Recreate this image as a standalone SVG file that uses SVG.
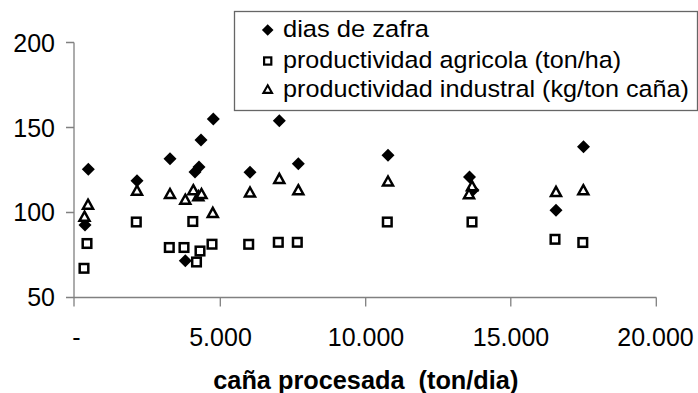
<svg xmlns="http://www.w3.org/2000/svg" width="698" height="393" viewBox="0 0 698 393">
<style>
text{font-family:"Liberation Sans",Arial,sans-serif;fill:#000;}
.tick{font-size:25px;}
.leg{font-size:24.5px;}
.title{font-size:25.3px;font-weight:bold;}
.axis{stroke:#808080;stroke-width:1.3;fill:none;}
.dia{fill:#000;stroke:none;}
.sq{fill:#fff;stroke:#000;stroke-width:2.5;}
.tri{fill:#fff;stroke:#000;stroke-width:2.5;stroke-linejoin:miter;}
</style>
<defs>
<path id="mD" class="dia" d="M0,-6.5 L6.5,0 L0,6.5 L-6.5,0 Z"/>
<rect id="mS" class="sq" x="-4.3" y="-4.3" width="8.6" height="8.6"/>
<path id="mT" class="tri" d="M0,-4.8 L5.0,4.2 L-5.0,4.2 Z"/>
<path id="lD" class="dia" d="M0,-5.8 L5.8,0 L0,5.8 L-5.8,0 Z"/>
<rect id="lS" class="sq" x="-3.6" y="-3.6" width="7.2" height="7.2" style="stroke-width:2.2"/>
<path id="lT" class="tri" d="M0,-4 L4.3,3.6 L-4.3,3.6 Z" style="stroke-width:2.1"/>
</defs>
<rect width="698" height="393" fill="#fff"/>
<g id="axes">
<path class="axis" d="M74,42.5 V306.5 M66,42.5 H74 M66,127.5 H74 M66,212.5 H74 M66,297.5 H656.5 M220.3,297.5 V306.5 M365.7,297.5 V306.5 M510.8,297.5 V306.5 M656.3,297.5 V306.5"/>
<text class="tick" x="55" y="51.7" text-anchor="end">200</text>
<text class="tick" x="55" y="136.7" text-anchor="end">150</text>
<text class="tick" x="55" y="220.7" text-anchor="end">100</text>
<text class="tick" x="55" y="306" text-anchor="end">50</text>
<text class="tick" x="76.5" y="346" text-anchor="middle">-</text>
<text class="tick" x="220.5" y="346" text-anchor="middle">5.000</text>
<text class="tick" x="366" y="346" text-anchor="middle">10.000</text>
<text class="tick" x="511" y="346" text-anchor="middle">15.000</text>
<text class="tick" x="655.5" y="346" text-anchor="middle">20.000</text>
<text class="title" x="365.8" y="389" text-anchor="middle" xml:space="preserve">caña procesada  (ton/dia)</text>
</g>
<g id="series-dias">
<use href="#mD" x="88.3" y="169.3"/>
<use href="#mD" x="85" y="225"/>
<use href="#mD" x="137" y="180.8"/>
<use href="#mD" x="170" y="158.7"/>
<use href="#mD" x="185.3" y="260.8"/>
<use href="#mD" x="195" y="172"/>
<use href="#mD" x="199" y="167"/>
<use href="#mD" x="201" y="140"/>
<use href="#mD" x="213.3" y="119"/>
<use href="#mD" x="250" y="172.3"/>
<use href="#mD" x="279.3" y="120.7"/>
<use href="#mD" x="298.3" y="163.8"/>
<use href="#mD" x="388" y="155.3"/>
<use href="#mD" x="469.5" y="177"/>
<use href="#mD" x="473" y="190"/>
<use href="#mD" x="556" y="210.3"/>
<use href="#mD" x="583.5" y="146.7"/>
</g>
<g id="series-agricola">
<use href="#mS" x="84" y="268.3"/>
<use href="#mS" x="87" y="243.5"/>
<use href="#mS" x="136.3" y="222"/>
<use href="#mS" x="169.3" y="247.5"/>
<use href="#mS" x="184" y="247.5"/>
<use href="#mS" x="192.8" y="221.5"/>
<use href="#mS" x="196.5" y="262"/>
<use href="#mS" x="200" y="251"/>
<use href="#mS" x="212" y="244.2"/>
<use href="#mS" x="248.7" y="244.3"/>
<use href="#mS" x="278.3" y="242.3"/>
<use href="#mS" x="297.3" y="242.3"/>
<use href="#mS" x="387.3" y="222"/>
<use href="#mS" x="472" y="222"/>
<use href="#mS" x="555" y="239.3"/>
<use href="#mS" x="582.8" y="242.5"/>
</g>
<g id="series-industrial">
<use href="#mT" x="84.5" y="216.5"/>
<use href="#mT" x="88" y="204.5"/>
<use href="#mT" x="137" y="190.5"/>
<use href="#mT" x="170" y="193.8"/>
<use href="#mT" x="185.3" y="199.5"/>
<use href="#mT" x="193.3" y="190"/>
<use href="#mT" x="198.3" y="196"/>
<use href="#mT" x="201.5" y="193.8"/>
<use href="#mT" x="212.8" y="212.7"/>
<use href="#mT" x="250" y="192.3"/>
<use href="#mT" x="279.3" y="178.7"/>
<use href="#mT" x="298.3" y="190"/>
<use href="#mT" x="388" y="181.3"/>
<use href="#mT" x="472" y="186"/>
<use href="#mT" x="469" y="194"/>
<use href="#mT" x="556" y="191.7"/>
<use href="#mT" x="583.3" y="190"/>
</g>
<g id="legend">
<rect x="234.5" y="11.5" width="463" height="99" fill="#fff" stroke="#666" stroke-width="1.3"/>
<use href="#lD" x="267.7" y="30"/>
<use href="#lS" x="267.7" y="61"/>
<use href="#lT" x="267.7" y="89.3"/>
<text class="leg" x="283" y="37" textLength="146" lengthAdjust="spacingAndGlyphs">dias de zafra</text>
<text class="leg" x="283" y="68" textLength="338" lengthAdjust="spacingAndGlyphs">productividad agricola (ton/ha)</text>
<text class="leg" x="283" y="96.5" textLength="406" lengthAdjust="spacingAndGlyphs">productividad industral (kg/ton caña)</text>
</g>
</svg>
